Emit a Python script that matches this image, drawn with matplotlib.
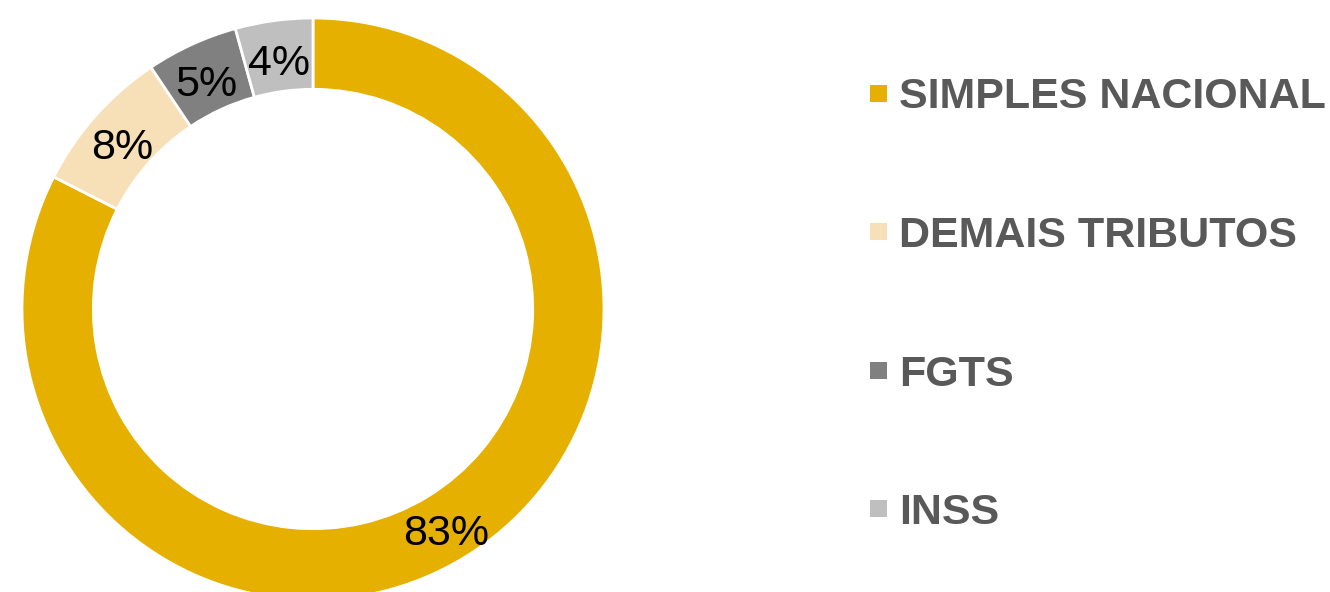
import matplotlib
matplotlib.use("Agg")
import matplotlib.pyplot as plt
from matplotlib.patches import Rectangle
import numpy as np

categories = ["SIMPLES NACIONAL", "DEMAIS TRIBUTOS", "FGTS", "INSS"]
values = [82.5, 8.1, 5.1, 4.3]
labels = ["83%", "8%", "5%", "4%"]
colors = ["#E6B000", "#F7DFB7", "#808080", "#BFBFBF"]

W, H = 1330, 592
fig = plt.figure(figsize=(W / 100, H / 100), dpi=100)
plt.rcParams['font.family'] = ['Liberation Sans', 'DejaVu Sans']

cx, cy, R = 313, 309, 291
ax = fig.add_axes([(cx - R) / W, (H - cy - R) / H, 2 * R / W, 2 * R / H])
wedges, _ = ax.pie(values, colors=colors, startangle=90, counterclock=False,
                   radius=1.0, wedgeprops=dict(width=0.245, edgecolor="white", linewidth=2.0))
cum = np.cumsum([0] + values[:-1])
for v, c0, lab in zip(values, cum, labels):
    mid = np.deg2rad(90 - (c0 + v / 2) / sum(values) * 360)
    r = 0.875
    ax.text(r * np.cos(mid), r * np.sin(mid) - 3.0 / R, lab, ha="center", va="center_baseline",
            fontsize=31, color="black")
ax.set_xlim(-1, 1)
ax.set_ylim(-1, 1)
ax.set_aspect("equal")
ax.axis("off")

# legend
x_sq, sq = 870, 17
x_txt = 899
y0, dy = 93, 138.5
for i, (cat, col) in enumerate(zip(categories, colors)):
    yc = y0 + i * dy
    fig.patches.append(Rectangle((x_sq / W, (H - yc - sq / 2) / H), sq / W, sq / H,
                                 transform=fig.transFigure, facecolor=col, edgecolor="none"))
    fig.text(x_txt / W, (H - yc) / H, cat, ha="left", va="center_baseline",
             fontsize=31, fontweight="bold", color="#595959")

fig.savefig("out.png", dpi=100, facecolor="white")
